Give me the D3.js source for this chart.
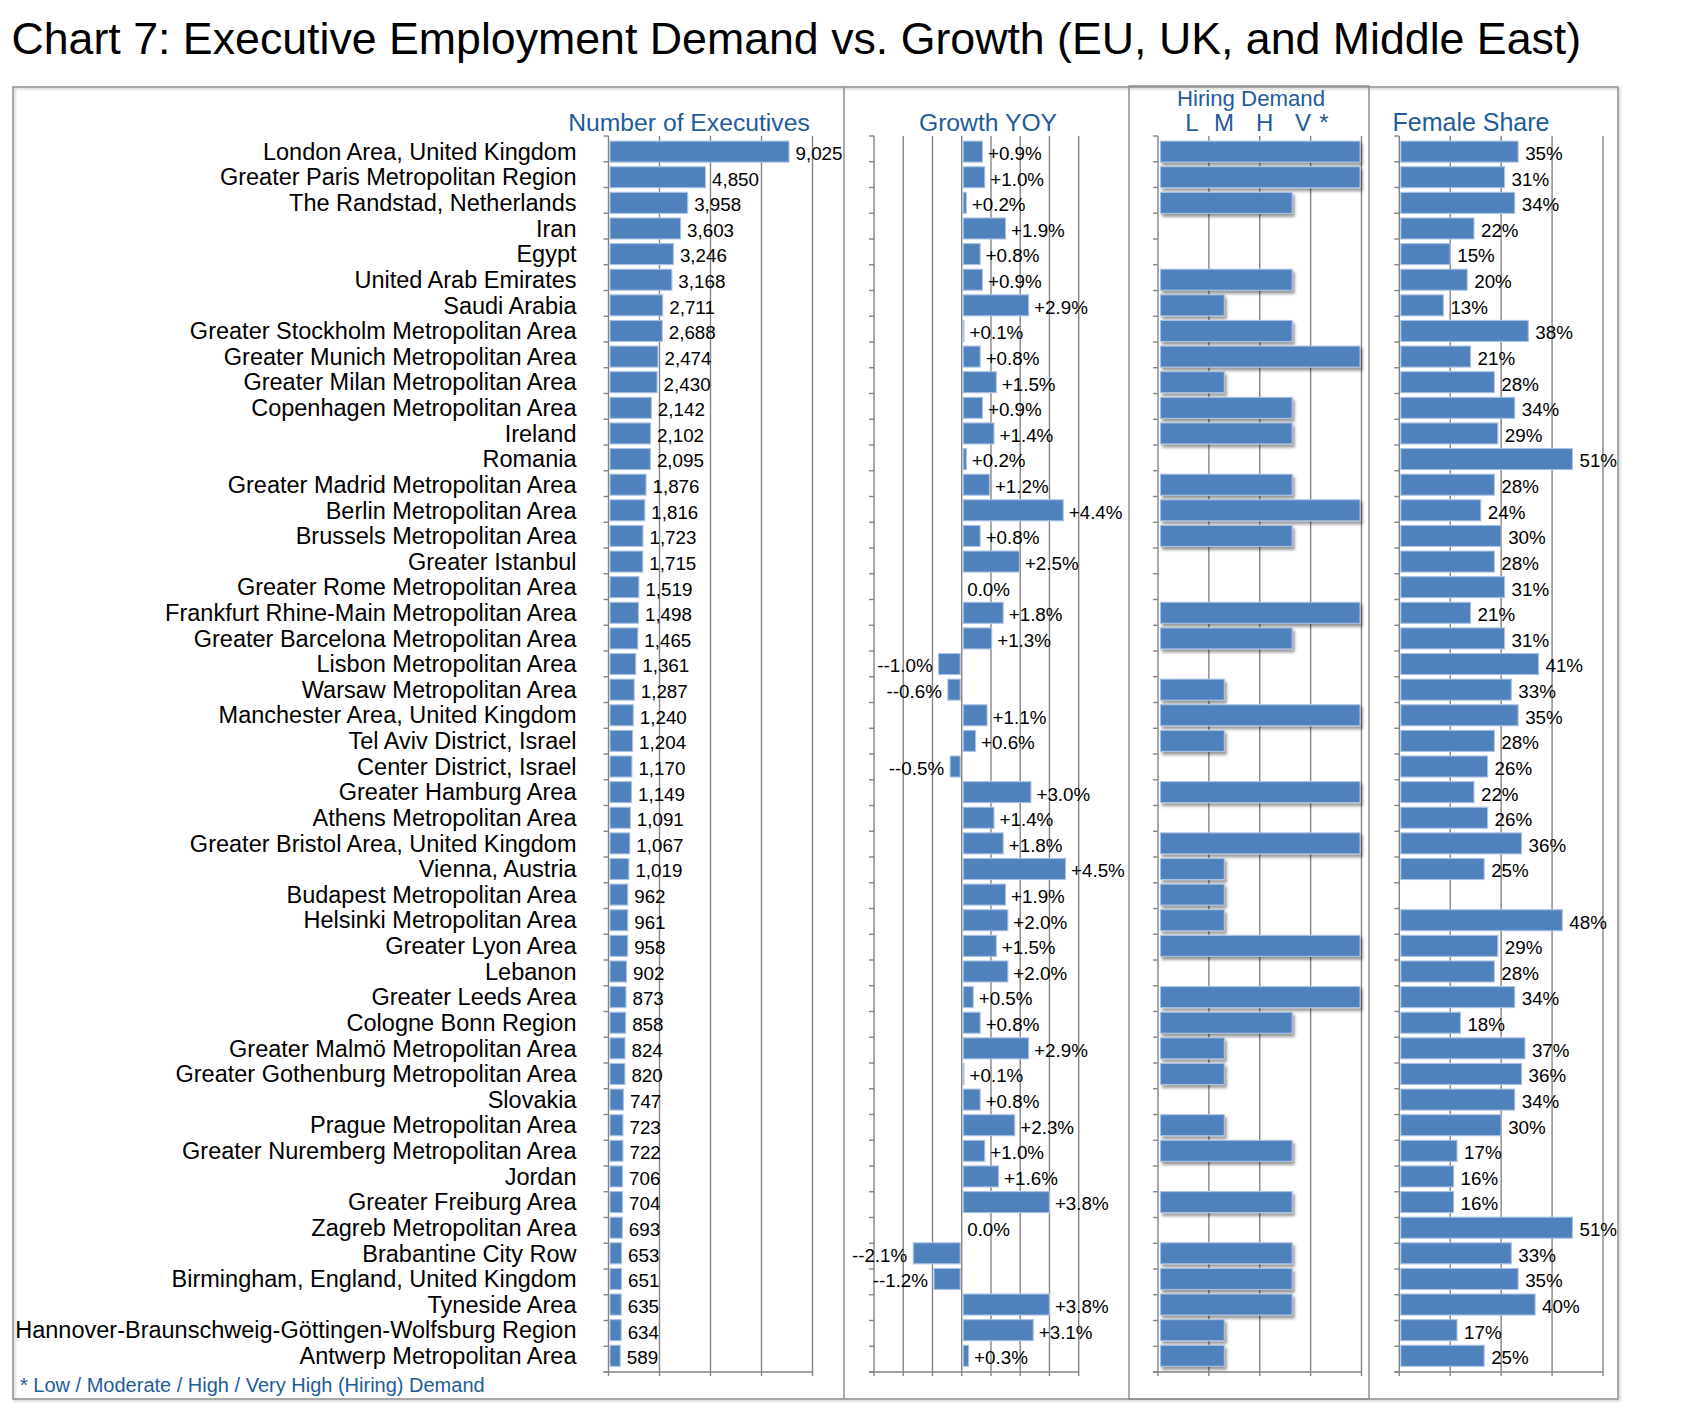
<!DOCTYPE html>
<html><head><meta charset="utf-8">
<script src="https://cdn.jsdelivr.net/npm/d3@7"></script>
<style>
html,body{margin:0;padding:0;background:#fff;}
svg{display:block;font-family:"Liberation Sans",Arial,Helvetica,sans-serif;}
</style></head><body>
<svg id="chart" width="1700" height="1419"></svg>
<script>
const titleText = "Chart 7: Executive Employment Demand vs. Growth (EU, UK, and Middle East)";
const footnoteText = "* Low / Moderate / High / Very High (Hiring) Demand";
const panelTitles = ["Number of Executives", "Growth YOY", "Hiring Demand", "Female Share"];
const demandHeader = ["L", "M", "H", "V", "*"];
const demandLevels = {L: 1, M: 1.5, H: 2, V: 3};

const categories = [
  "London Area, United Kingdom","Greater Paris Metropolitan Region","The Randstad, Netherlands","Iran","Egypt",
  "United Arab Emirates","Saudi Arabia","Greater Stockholm Metropolitan Area","Greater Munich Metropolitan Area",
  "Greater Milan Metropolitan Area","Copenhagen Metropolitan Area","Ireland","Romania","Greater Madrid Metropolitan Area",
  "Berlin Metropolitan Area","Brussels Metropolitan Area","Greater Istanbul","Greater Rome Metropolitan Area",
  "Frankfurt Rhine-Main Metropolitan Area","Greater Barcelona Metropolitan Area","Lisbon Metropolitan Area",
  "Warsaw Metropolitan Area","Manchester Area, United Kingdom","Tel Aviv District, Israel","Center District, Israel",
  "Greater Hamburg Area","Athens Metropolitan Area","Greater Bristol Area, United Kingdom","Vienna, Austria",
  "Budapest Metropolitan Area","Helsinki Metropolitan Area","Greater Lyon Area","Lebanon","Greater Leeds Area",
  "Cologne Bonn Region","Greater Malmö Metropolitan Area","Greater Gothenburg Metropolitan Area","Slovakia",
  "Prague Metropolitan Area","Greater Nuremberg Metropolitan Area","Jordan","Greater Freiburg Area",
  "Zagreb Metropolitan Area","Brabantine City Row","Birmingham, England, United Kingdom","Tyneside Area",
  "Hannover-Braunschweig-Göttingen-Wolfsburg Region","Antwerp Metropolitan Area"
];
const executives = [9025,4850,3958,3603,3246,3168,2711,2688,2474,2430,2142,2102,2095,1876,1816,1723,1715,1519,1498,1465,
  1361,1287,1240,1204,1170,1149,1091,1067,1019,962,961,958,902,873,858,824,820,747,723,722,706,704,693,653,651,635,634,589];
const growth = [0.9,1.0,0.2,1.9,0.8,0.9,2.9,0.1,0.8,1.5,0.9,1.4,0.2,1.2,4.4,0.8,2.5,0.0,1.8,1.3,
  -1.0,-0.6,1.1,0.6,-0.5,3.0,1.4,1.8,4.5,1.9,2.0,1.5,2.0,0.5,0.8,2.9,0.1,0.8,2.3,1.0,1.6,3.8,0.0,-2.1,-1.2,3.8,3.1,0.3];
const demand = ["V","V","H","","","H","L","H","V","L","H","H","","H","V","H","","","V","H",
  "","L","V","L","","V","","V","L","L","L","V","","V","H","L","L","","L","H","","H","","H","H","H","L","L"];
const femaleShare = [35,31,34,22,15,20,13,38,21,28,34,29,51,28,24,30,28,31,21,31,
  41,33,35,28,26,22,26,36,25,null,48,29,28,34,18,37,36,34,30,17,16,16,51,33,35,40,17,25];

const BAR = "#4F81BD", BAR_EDGE = "#A9C2E3", GRID = "#858585", HEAD = "#1F5C99";
const svg = d3.select("#chart");
const defs = svg.append("defs");
const sh = defs.append("filter").attr("id","shadow").attr("x","-10%").attr("y","-30%").attr("width","130%").attr("height","190%");
sh.append("feDropShadow").attr("dx",2).attr("dy",3).attr("stdDeviation",1.6).attr("flood-color","#000").attr("flood-opacity",0.4);
const bsh = defs.append("filter").attr("id","bshadow").attr("x","-5%").attr("y","-5%").attr("width","110%").attr("height","110%");
bsh.append("feDropShadow").attr("dx",1.5).attr("dy",1.5).attr("stdDeviation",1).attr("flood-color","#000").attr("flood-opacity",0.25);

// title
svg.append("text").attr("x",11.5).attr("y",54).attr("font-size",44.7).attr("fill","#000").text(titleText);

// frames
svg.append("rect").attr("x",13).attr("y",87).attr("width",1605).attr("height",1312)
  .attr("fill","none").attr("stroke","#8f8f8f").attr("stroke-width",1.5).attr("filter","url(#bshadow)");
svg.append("line").attr("x1",844).attr("x2",844).attr("y1",87).attr("y2",1399).attr("stroke","#8f8f8f").attr("stroke-width",1.5);
svg.append("rect").attr("x",1129).attr("y",86).attr("width",240).attr("height",1313)
  .attr("fill","none").attr("stroke","#8f8f8f").attr("stroke-width",1.5);

const yTick = d3.scaleBand().domain(categories).range([136,1372]);
const yBar = d3.scaleBand().domain(categories).range([138.8,1368.6]).paddingInner(0.18).paddingOuter(0.09);
const bw = yBar.bandwidth();
const cy = c => yBar(c) + bw/2;
const tickYs = categories.map(c => yTick(c)).concat([yTick.range()[1]]);

const xNum = d3.scaleLinear().domain([0,10200]).range([608.5,812.5]);
const xGro = d3.scaleLinear().domain([-3.8,5.07]).range([874,1078.7]);
const xDem = d3.scaleLinear().domain([0,3]).range([1158,1361.5]);
const xFem = d3.scaleLinear().domain([0,60]).range([1399.3,1603]);

function gridVals(sc, n){ const [a,b]=sc.domain(); return d3.range(n+1).map(i=>a+i*(b-a)/n); }

function frame(sc, n){
  const g = svg.append("g");
  const [x0,x1] = sc.range();
  const ybot = yTick.range()[1], ytop = yTick.range()[0];
  gridVals(sc,n).forEach(v=>{
    g.append("line").attr("x1",sc(v)).attr("x2",sc(v)).attr("y1",ytop).attr("y2",ybot+4)
      .attr("stroke",GRID).attr("stroke-width",1.4);
  });
  tickYs.forEach(y=>{
    g.append("line").attr("x1",x0-5).attr("x2",x0).attr("y1",y).attr("y2",y).attr("stroke",GRID).attr("stroke-width",1.4);
  });
  g.append("line").attr("x1",x0-5).attr("x2",x1).attr("y1",ybot).attr("y2",ybot).attr("stroke",GRID).attr("stroke-width",1.5);
}
frame(xNum,4); frame(xGro,7); frame(xDem,4); frame(xFem,4);

const rows = categories.map((c,i)=>({c, n:executives[i], g:growth[i], d:demand[i], f:femaleShare[i]}));

// category labels
svg.append("g").selectAll("text").data(rows).join("text")
  .attr("x",576.5).attr("y",d=>cy(d.c)+8.2).attr("text-anchor","end").attr("font-size",23.5).attr("fill","#000")
  .text(d=>d.c);

function barStyle(sel){ return sel.attr("fill",BAR).attr("stroke",BAR_EDGE).attr("stroke-width",1.1); }
const LAB = 18.8;

// Number of executives
barStyle(svg.append("g").selectAll("rect").data(rows).join("rect")
  .attr("x",xNum(0)+1.5).attr("y",d=>yBar(d.c)).attr("height",bw).attr("width",d=>xNum(d.n)-xNum(0)-1.5));
svg.append("g").selectAll("text").data(rows).join("text")
  .attr("x",d=>xNum(d.n)+6.5).attr("y",d=>cy(d.c)+8.4).attr("font-size",LAB).text(d=>d3.format(",")(d.n));

// Growth
const fmtG = v => v>0 ? "+"+v.toFixed(1)+"%" : v<0 ? "--"+Math.abs(v).toFixed(1)+"%" : "0.0%";
barStyle(svg.append("g").selectAll("rect").data(rows.filter(d=>d.g!==0)).join("rect")
  .attr("x",d=>Math.min(xGro(0),xGro(d.g))+(d.g>0?1.5:0)).attr("y",d=>yBar(d.c)).attr("height",bw)
  .attr("width",d=>Math.max(0.8,Math.abs(xGro(d.g)-xGro(0))-1.5)));
svg.append("g").selectAll("text").data(rows).join("text")
  .attr("x",d=>d.g<0 ? xGro(d.g)-6 : xGro(d.g)+5.5).attr("text-anchor",d=>d.g<0?"end":"start")
  .attr("y",d=>cy(d.c)+8.4).attr("font-size",LAB).text(d=>fmtG(d.g));

// Hiring demand
barStyle(svg.append("g").selectAll("rect").data(rows.filter(d=>d.d)).join("rect")
  .attr("x",xDem(0)+2.5).attr("y",d=>yBar(d.c)).attr("height",bw)
  .attr("width",d=>xDem(demandLevels[d.d])-xDem(0)-4)).attr("filter","url(#shadow)");

// Female share
barStyle(svg.append("g").selectAll("rect").data(rows.filter(d=>d.f!=null)).join("rect")
  .attr("x",xFem(0)+1.5).attr("y",d=>yBar(d.c)).attr("height",bw).attr("width",d=>xFem(d.f)-xFem(0)-1.5));
svg.append("g").selectAll("text").data(rows.filter(d=>d.f!=null)).join("text")
  .attr("x",d=>xFem(d.f)+7).attr("y",d=>cy(d.c)+8.4).attr("font-size",LAB).text(d=>d.f+"%");

// headers
const hdr = [[panelTitles[0],689,130.7,24.7],[panelTitles[1],988,130.7,24.7],[panelTitles[2],1251,106,22.2],[panelTitles[3],1471,130.7,25]];
svg.append("g").selectAll("text").data(hdr).join("text")
  .attr("x",d=>d[1]).attr("y",d=>d[2]).attr("font-size",d=>d[3]).attr("text-anchor","middle").attr("fill",HEAD).text(d=>d[0]);
const hx = [1192,1224,1264.6,1303,1324];
svg.append("g").selectAll("text").data(demandHeader).join("text")
  .attr("x",(d,i)=>hx[i]).attr("y",130.7).attr("font-size",24).attr("text-anchor","middle").attr("fill",HEAD).text(d=>d);

// footnote
svg.append("text").attr("x",20).attr("y",1391.5).attr("font-size",20).attr("fill",HEAD).text(footnoteText);
</script>
</body></html>
